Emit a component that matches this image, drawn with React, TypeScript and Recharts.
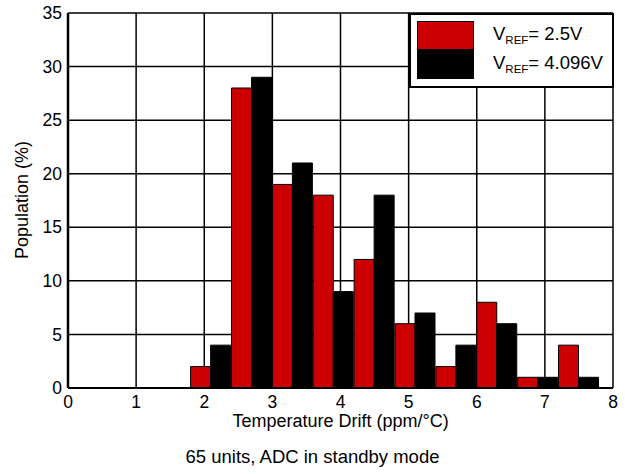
import React from 'react';
import {
  BarChart,
  Bar,
  XAxis,
  YAxis,
  CartesianGrid,
} from 'recharts';

// bin centres (ppm/°C), each bin 0.6 wide
const binCenters = [2.1, 2.7, 3.3, 3.9, 4.5, 5.1, 5.7, 6.3, 6.9, 7.5];
const vref25 = [2, 28, 19, 18, 12, 6, 2, 8, 1, 4];
const vref4096 = [4, 29, 21, 9, 18, 7, 4, 6, 1, 1];

const xTicks = [0, 1, 2, 3, 4, 5, 6, 7, 8];
const yTicks = [0, 5, 10, 15, 20, 25, 30, 35];

const seriesInfo = [
  { key: 'a', label: '= 2.5V', color: '#cc0000' },
  { key: 'b', label: '= 4.096V', color: '#000000' },
];

const data = binCenters.map((x, i) => ({ x, a: vref25[i], b: vref4096[i] }));

const FONT = '"Liberation Sans", Arial, sans-serif';

export default function App() {
  return (
    <div style={{ position: 'absolute', left: 0, top: 0, width: 625, height: 474, background: '#fff', fontFamily: FONT }}>
      <BarChart
        width={625}
        height={474}
        data={data}
        margin={{ top: 13, right: 12, bottom: 56, left: 0 }}
        barGap={0}
        barCategoryGap={0}
      >
        <CartesianGrid stroke="#000" strokeWidth={1.5} strokeOpacity={1} />
        <XAxis
          dataKey="x"
          type="number"
          domain={[0, 8]}
          ticks={xTicks}
          interval={0}
          height={30}
          tickLine={false}
          axisLine={{ stroke: '#000', strokeWidth: 2 }}
          tick={{ fill: '#000', fontSize: 17.5, fontFamily: FONT }}
          tickMargin={2}
          label={{ value: 'Temperature Drift (ppm/°C)', position: 'bottom', offset: -4, fill: '#000', fontSize: 18, fontFamily: FONT }}
        />
        <YAxis
          type="number"
          domain={[0, 35]}
          ticks={yTicks}
          interval={0}
          width={68}
          tickLine={false}
          axisLine={{ stroke: '#000', strokeWidth: 2.5 }}
          tick={{ fill: '#000', fontSize: 17.5, fontFamily: FONT }}
          tickMargin={0}
        />
        {seriesInfo.map((s) => (
          <Bar key={s.key} dataKey={s.key} fill={s.color} stroke="#000" strokeWidth={1} isAnimationActive={false} />
        ))}
      </BarChart>
      <div
        style={{
          position: 'absolute', left: 22, top: 200, width: 0, height: 0,
        }}
      >
        <div style={{ position: 'absolute', left: 0, top: 0, transform: 'translate(-50%, -50%) rotate(-90deg)', whiteSpace: 'nowrap', fontSize: 18, color: '#000' }}>
          Population (%)
        </div>
      </div>
      <div
        style={{
          position: 'absolute', left: 409, top: 13, width: 201, height: 71,
          border: '2px solid #000', background: '#fff', boxSizing: 'content-box',
        }}
      >
        {seriesInfo.map((s, i) => (
          <div key={s.key} style={{ position: 'absolute', left: 6, top: 6 + i * 29, width: 57, height: 29 }}>
            <div style={{ position: 'absolute', left: 0, top: 0, width: 55, height: 27, background: s.color, border: '1px solid #000' }} />
            <div style={{ position: 'absolute', left: 76, top: 3, whiteSpace: 'nowrap', fontSize: 18.5, lineHeight: '20px', color: '#000' }}>
              V<span style={{ fontSize: 11.5, position: 'relative', top: 4 }}>REF</span>{s.label}
            </div>
          </div>
        ))}
      </div>
      <div style={{ position: 'absolute', left: 0, width: 625, top: 446, textAlign: 'center', fontSize: 18.5, color: '#000' }}>
        65 units, ADC in standby mode
      </div>
    </div>
  );
}
